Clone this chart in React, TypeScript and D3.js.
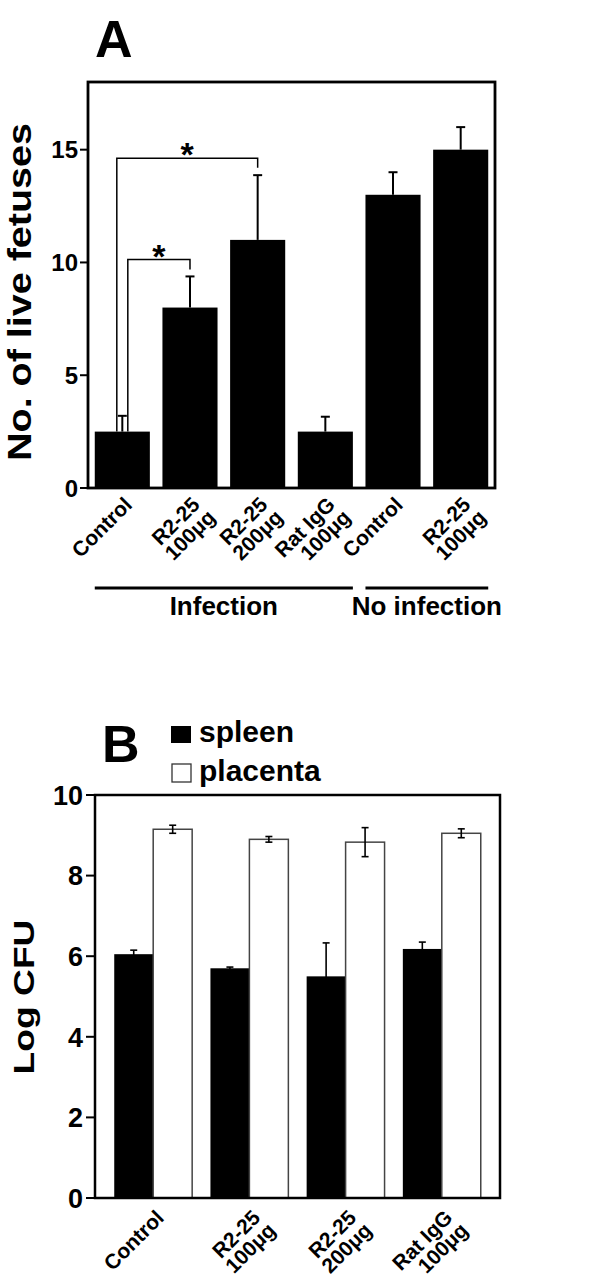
import React from "react";
import * as d3 from "d3";

// ---------- Panel A data ----------
const catsA: string[][] = [
  ["Control"],
  ["R2-25", "100μg"],
  ["R2-25", "200μg"],
  ["Rat IgG", "100μg"],
  ["Control"],
  ["R2-25", "100μg"],
];
const valuesA = [2.5, 8.0, 11.0, 2.5, 13.0, 15.0];
const errA = [0.7, 1.38, 2.87, 0.66, 1.0, 1.0];
const ticksA = [0, 5, 10, 15];
const groupsA = [
  { label: "Infection", from: 0, to: 3 },
  { label: "No infection", from: 4, to: 5 },
];
const bracketsA = [
  { from: 0, to: 2, level: 14.62, drop: 14.2 },
  { from: 0, to: 1, level: 10.13, drop: 9.69 },
];

// ---------- Panel B data ----------
const catsB: string[][] = [
  ["Control"],
  ["R2-25", "100μg"],
  ["R2-25", "200μg"],
  ["Rat IgG", "100μg"],
];
const seriesB = ["spleen", "placenta"];
const spleen = [6.05, 5.7, 5.5, 6.18];
const spleenErr = [0.1, 0.03, 0.83, 0.17];
const placenta = [9.15, 8.9, 8.83, 9.05];
const placentaErr = [0.1, 0.07, 0.36, 0.11];
const ticksB = [0, 2, 4, 6, 8, 10];

const FONT = "'Liberation Sans', Arial, Helvetica, sans-serif";

function RotLabel({ x, y, lines, size }: { x: number; y: number; lines: string[]; size: number }) {
  return (
    <text
      transform={`translate(${x},${y}) rotate(-45)`}
      textAnchor="end"
      fontFamily={FONT}
      fontWeight="bold"
      fontSize={size}
      fill="#000"
    >
      {lines.map((l, i) => (
        <tspan key={i} x={i === 0 ? 0 : 2} dy={i === 0 ? 0 : "0.95em"}>
          {l}
        </tspan>
      ))}
    </text>
  );
}

function PanelA() {
  const left = 88, right = 495, top = 82, bottom = 488;
  const x = d3
    .scaleBand<number>()
    .domain(d3.range(catsA.length))
    .range([left, right])
    .paddingInner(0.186)
    .paddingOuter(0.1);
  const y = d3.scaleLinear().domain([0, 18]).range([bottom, top]);
  const bw = x.bandwidth();
  const cx = (i: number) => (x(i) as number) + bw / 2;
  return (
    <g>
      <text x={95} y={57} fontFamily={FONT} fontWeight="bold" fontSize={52}>A</text>
      {/* bars */}
      {valuesA.map((v, i) => (
        <rect key={i} x={x(i)} y={y(v)} width={bw} height={bottom - y(v)} fill="#000" />
      ))}
      {/* error bars */}
      {valuesA.map((v, i) => (
        <g key={"e" + i} stroke="#000" strokeWidth={2}>
          <line x1={cx(i)} x2={cx(i)} y1={y(v)} y2={y(v + errA[i])} />
          <line x1={cx(i) - 4.5} x2={cx(i) + 4.5} y1={y(v + errA[i])} y2={y(v + errA[i])} />
        </g>
      ))}
      {/* frame */}
      <rect x={left} y={top} width={right - left} height={bottom - top} fill="none" stroke="#000" strokeWidth={2.8} />
      {/* y ticks */}
      {ticksA.map((t) => (
        <g key={t}>
          <line x1={left - 8} x2={left} y1={y(t)} y2={y(t)} stroke="#000" strokeWidth={2} />
          <text x={left - 10} y={y(t)} dy="0.36em" textAnchor="end" fontFamily={FONT} fontWeight="bold" fontSize={24}>
            {t}
          </text>
        </g>
      ))}
      {/* y title */}
      <text
        transform={`translate(31,${(top + bottom) / 2 + 7}) rotate(-90)`}
        textAnchor="middle"
        fontFamily={FONT}
        fontWeight="bold"
        fontSize={34}
        textLength={338}
        lengthAdjust="spacingAndGlyphs"
      >
        No. of live fetuses
      </text>
      {/* brackets */}
      {bracketsA.map((b, k) => {
        const x1 = cx(b.from) + (k === 0 ? -5.5 : 5.5);
        const x2 = cx(b.to);
        return (
          <g key={"b" + k}>
            <path
              d={`M${x1},${y(valuesA[b.from])}V${y(b.level)}H${x2}V${y(b.drop)}`}
              fill="none"
              stroke="#000"
              strokeWidth={1.5}
            />
            <text x={(x1 + x2) / 2} y={y(b.level) + 8} textAnchor="middle" fontFamily={FONT} fontWeight="bold" fontSize={34}>
              *
            </text>
          </g>
        );
      })}
      {/* x labels */}
      {catsA.map((c, i) => (
        <RotLabel key={"l" + i} x={cx(i) + 11} y={bottom + 18} lines={c} size={21} />
      ))}
      {/* groups */}
      {groupsA.map((g, i) => {
        const gx1 = x(g.from) as number;
        const gx2 = (x(g.to) as number) + bw;
        return (
          <g key={"g" + i}>
            <line x1={gx1} x2={gx2} y1={bottom + 100} y2={bottom + 100} stroke="#000" strokeWidth={3} />
            <text x={(gx1 + gx2) / 2} y={bottom + 127} textAnchor="middle" fontFamily={FONT} fontWeight="bold" fontSize={26}>
              {g.label}
            </text>
          </g>
        );
      })}
    </g>
  );
}

function PanelB() {
  const left = 95, right = 500, top = 795, bottom = 1198;
  const x0 = d3
    .scaleBand<number>()
    .domain(d3.range(catsB.length))
    .range([left, right])
    .paddingInner(0.19)
    .paddingOuter(0.2);
  const x1 = d3.scaleBand<string>().domain(seriesB).range([0, x0.bandwidth()]);
  const y = d3.scaleLinear().domain([0, 10]).range([bottom, top]);
  const bw = x1.bandwidth();
  const series = [
    { key: "spleen", vals: spleen, errs: spleenErr, fill: "#000" },
    { key: "placenta", vals: placenta, errs: placentaErr, fill: "#fff" },
  ];
  return (
    <g>
      <text x={102} y={762} fontFamily={FONT} fontWeight="bold" fontSize={52}>B</text>
      {/* legend */}
      <rect x={171} y={726} width={20} height={17} fill="#000" />
      <text x={199} y={742} fontFamily={FONT} fontWeight="bold" fontSize={30}>spleen</text>
      <rect x={172} y={764} width={19} height={18} fill="#fff" stroke="#333" strokeWidth={1.3} />
      <text x={199} y={781} fontFamily={FONT} fontWeight="bold" fontSize={30}>placenta</text>
      {/* bars */}
      {series.map((s) =>
        s.vals.map((v, i) => {
          const bx = (x0(i) as number) + (x1(s.key) as number);
          return (
            <rect
              key={s.key + i}
              x={bx}
              y={y(v)}
              width={bw}
              height={bottom - y(v)}
              fill={s.fill}
              stroke={s.key === "placenta" ? "#444" : "none"}
              strokeWidth={1.5}
            />
          );
        })
      )}
      {/* error bars */}
      {series.map((s) =>
        s.vals.map((v, i) => {
          const c = (x0(i) as number) + (x1(s.key) as number) + bw / 2;
          const hi = y(v + s.errs[i]);
          const lo = y(v - s.errs[i]);
          return (
            <g key={"e" + s.key + i} stroke="#000" strokeWidth={1.6}>
              <line x1={c} x2={c} y1={lo} y2={hi} />
              <line x1={c - 3.5} x2={c + 3.5} y1={hi} y2={hi} />
              {s.key === "placenta" && <line x1={c - 3.5} x2={c + 3.5} y1={lo} y2={lo} />}
            </g>
          );
        })
      )}
      {/* frame */}
      <rect x={left} y={top} width={right - left} height={bottom - top} fill="none" stroke="#000" strokeWidth={2.5} />
      {ticksB.map((t) => (
        <g key={t}>
          <line x1={left - 9} x2={left} y1={y(t)} y2={y(t)} stroke="#000" strokeWidth={2} />
          <text x={left - 12} y={y(t)} dy="0.36em" textAnchor="end" fontFamily={FONT} fontWeight="bold" fontSize={27}>
            {t}
          </text>
        </g>
      ))}
      <text
        transform={`translate(34,${997}) rotate(-90)`}
        textAnchor="middle"
        fontFamily={FONT}
        fontWeight="bold"
        fontSize={29}
        textLength={155}
        lengthAdjust="spacingAndGlyphs"
      >
        Log CFU
      </text>
      {catsB.map((c, i) => (
        <RotLabel
          key={"l" + i}
          x={(x0(i) as number) + x0.bandwidth() / 2 + 12}
          y={bottom + 21}
          lines={c}
          size={21}
        />
      ))}
    </g>
  );
}

export default function App() {
  return (
    <svg
      width={600}
      height={1278}
      viewBox="0 0 600 1278"
      style={{ position: "absolute", left: 0, top: 0, background: "#fff" }}
    >
      <rect width={600} height={1278} fill="#fff" />
      <PanelA />
      <PanelB />
    </svg>
  );
}
